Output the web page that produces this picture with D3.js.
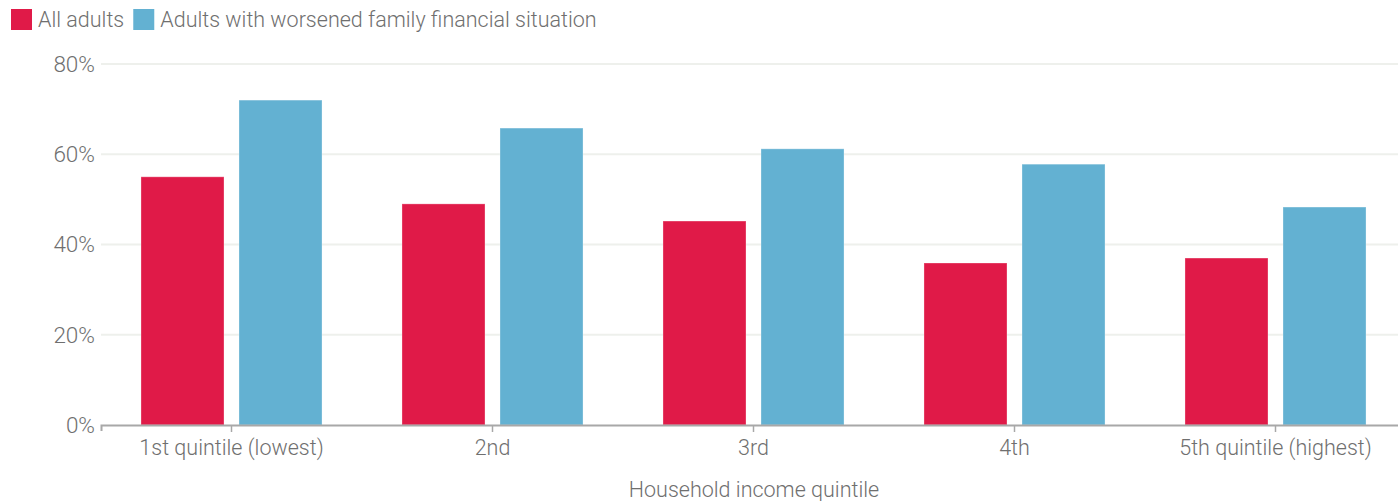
<!DOCTYPE html>
<html>
<head>
<meta charset="utf-8">
<script src="https://cdn.jsdelivr.net/npm/d3@7"></script>
<style>
  body { margin: 0; background: #fff; }
  svg text { font-family: Roboto, "Noto Sans", sans-serif; font-weight: 300; fill: #6f6f6f; }
</style>
</head>
<body>
<div id="chart-area"></div>
<script>
var categories = ["1st quintile (lowest)", "2nd", "3rd", "4th", "5th quintile (highest)"];
var seriesNames = ["All adults", "Adults with worsened family financial situation"];
var allAdults = [55, 49, 45.2, 35.9, 37];
var worsened = [72, 65.8, 61.2, 57.8, 48.3];
var yTicks = [0, 20, 40, 60, 80];
var colors = ["#e01a48", "#63b1d2"];

var width = 1398, height = 501;
var margin = { left: 101, right: -8, top: 64, bottom: 76 };
var plotW = width - margin.left - margin.right;
var plotH = height - margin.top - margin.bottom;

var svg = d3.select("#chart-area")
    .append("svg")
    .attr("width", width)
    .attr("height", height);

var g = svg.append("g")
    .attr("transform", "translate(" + margin.left + ", " + margin.top + ")");

var x0 = d3.scaleBand()
    .domain(categories)
    .range([0, plotW])
    .padding(0);

var x1 = d3.scaleBand()
    .domain(seriesNames)
    .range([0, x0.bandwidth()])
    .paddingInner(0.153)
    .paddingOuter(0.408);

var y = d3.scaleLinear()
    .domain([0, 80])
    .range([plotH, 0]);

// gridlines
g.append("g")
    .selectAll("line")
    .data(yTicks.filter(d => d > 0))
    .enter()
    .append("line")
    .attr("x1", 0)
    .attr("x2", plotW)
    .attr("y1", d => y(d))
    .attr("y2", d => y(d))
    .attr("stroke", "#eef0ec")
    .attr("stroke-width", 2);

// y labels
g.append("g")
    .selectAll("text")
    .data(yTicks)
    .enter()
    .append("text")
    .attr("x", -6)
    .attr("y", d => y(d))
    .attr("dy", "0.35em")
    .attr("text-anchor", "end")
    .style("font-size", "22.5px")
    .text(d => d + "%");

var rows = categories.map((c, i) => ({ cat: c, vals: [allAdults[i], worsened[i]] }));

var groups = g.selectAll(".grp")
    .data(rows)
    .enter()
    .append("g")
    .attr("class", "grp")
    .attr("transform", d => "translate(" + x0(d.cat) + ",0)");

groups.selectAll("rect")
    .data(d => d.vals.map((v, j) => ({ name: seriesNames[j], value: v, j: j })))
    .enter()
    .append("rect")
    .attr("x", d => x1(d.name))
    .attr("y", d => y(d.value))
    .attr("width", x1.bandwidth())
    .attr("height", d => plotH - y(d.value))
    .attr("fill", d => colors[d.j])
    .attr("stroke", "#fff")
    .attr("stroke-opacity", 0.3)
    .attr("stroke-width", 1);

// x axis
var xAxis = d3.axisBottom(x0).tickSize(6).tickPadding(5);
var xg = g.append("g")
    .attr("transform", "translate(0, " + plotH + ")")
    .call(xAxis);
xg.select(".domain").attr("stroke", "#a8a8a8").attr("stroke-width", 2);
xg.selectAll(".tick line").attr("stroke", "#a8a8a8").attr("stroke-width", 1.5).attr("y1", 1).attr("y2", 7);
xg.selectAll(".tick text")
    .style("font-size", "21.5px")
    .style("font-family", "Roboto, sans-serif")
    .style("font-weight", 300)
    .attr("fill", "#6f6f6f")
    .attr("dy", "0.88em");

svg.append("text")
    .attr("x", 754)
    .attr("y", 497)
    .attr("text-anchor", "middle")
    .style("font-size", "21.5px")
    .text("Household income quintile");

// legend
var legend = svg.append("g").attr("transform", "translate(11, 9)");
var lx = 0;
seriesNames.forEach((name, i) => {
    legend.append("rect")
        .attr("x", lx)
        .attr("y", 0)
        .attr("width", 21)
        .attr("height", 21)
        .attr("fill", colors[i]);
    var t = legend.append("text")
        .attr("x", lx + 27)
        .attr("y", 18)
        .style("font-size", "21.5px")
        .text(name);
    lx += 27 + t.node().getComputedTextLength() + 9;
});
</script>
</body>
</html>
